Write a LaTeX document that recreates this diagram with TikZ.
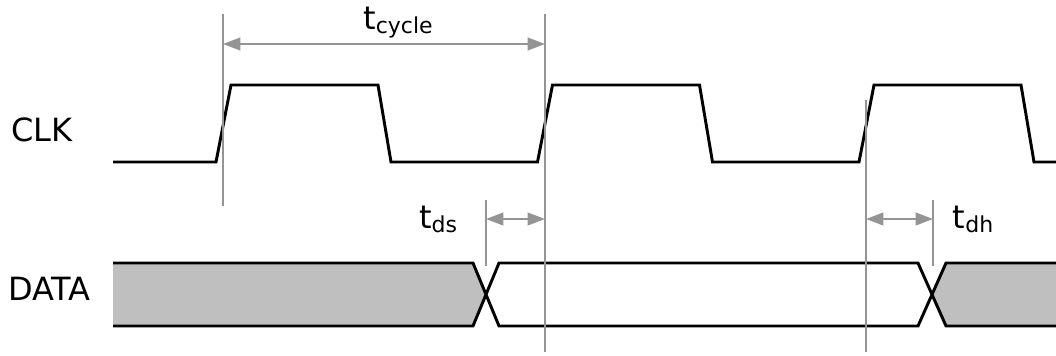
\documentclass[tikz,border=0pt]{standalone}
\usepackage{fontspec}
\setmainfont{DejaVu Sans}
\usetikzlibrary{arrows.meta}

\newcommand{\tsub}[1]{t\raisebox{-3pt}{\fontsize{16.5}{18}\selectfont #1}}

\begin{document}
\begin{tikzpicture}[x=0.75pt,y=-0.75pt,font=\fontsize{24}{28}\selectfont,
    sig/.style={black,line width=2.2pt,line join=miter},
    guide/.style={black!42,line width=1.4pt},
    dim/.style={guide,{Triangle[length=13pt,width=9.5pt]}-{Triangle[length=13pt,width=9.5pt]}}]
  \useasboundingbox (0,0) rectangle (1056,356);
  % signal names
  \node[anchor=base west,inner sep=0pt] (clk) at (11,142) {CLK};
  \node[anchor=base west,inner sep=0pt] (data) at (8,300) {DATA};
  % data bus
  \fill[black!25] (113,263) -- (473,263) -- (486,295) -- (473,326) -- (113,326) -- cycle;
  \fill[black!25] (1056,263) -- (946,263) -- (932,295) -- (946,326) -- (1056,326) -- cycle;
  \draw[sig] (113,263) -- (473,263) -- (499,326) -- (918,326) -- (946,263) -- (1056,263);
  \draw[sig] (113,326) -- (473,326) -- (499,263) -- (918,263) -- (946,326) -- (1056,326);
  % clock
  \draw[sig] (113,162) \foreach \p in {0,1,2}{
      -- ({216+321.5*\p},162) -- ({231+321.5*\p},85)
      -- ({378+321.5*\p},85) -- ({391+321.5*\p},162)} -- (1056,162);
  % guides
  \coordinate (g1t) at (223,14);   \coordinate (g1b) at (223,206);
  \coordinate (g2t) at (545,14);   \coordinate (g2b) at (545,352);
  \coordinate (g3t) at (866,100);  \coordinate (g3b) at (866,352);
  \coordinate (g4t) at (486,200);  \coordinate (g4b) at (486,266);
  \coordinate (g5t) at (933,200);  \coordinate (g5b) at (933,266);
  \foreach \g in {g1,g2,g3,g4,g5}
    \draw[guide] (\g t) -- (\g b);
  % timings
  \draw[dim] (g1t |- 0,44) -- (g2t |- 0,44);
  \draw[dim] (g4t |- 0,219) -- (g2t |- 0,219);
  \draw[dim] (g3t |- 0,219) -- (g5t |- 0,219);
  \node[anchor=base,inner sep=0pt] (tcyc) at (398,30) {\tsub{cycle}};
  \node[anchor=base,inner sep=0pt] (tds) at (438,228) {\tsub{ds}};
  \node[anchor=base,inner sep=0pt] (tdh) at (973,228) {\tsub{dh}};
\end{tikzpicture}
\end{document}
